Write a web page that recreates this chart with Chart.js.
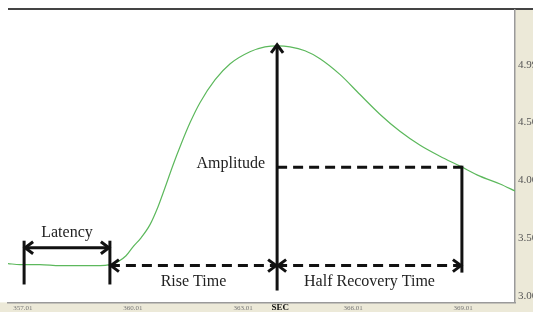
<!DOCTYPE html>
<html lang="en">
<head>
    <meta charset="UTF-8">
    <title>Skin Conductance Response</title>
    <script src="https://cdn.jsdelivr.net/npm/chart.js"></script>
    <style>
        body {
            margin: 0;
            padding: 0;
            background-color: #ffffff;
        }
        #wrap {
            width: 533px;
            height: 312px;
        }
    </style>
</head>
<body>
<div id="wrap">
    <canvas id="scrChart" width="533" height="312"></canvas>
</div>

<script>
    // Datos (segundos, microsiemens)
    const seriesTime = [356.60, 356.93, 357.47, 358.02, 358.56, 359.11, 359.38, 359.60, 359.82, 360.01,
        360.23, 360.47, 360.69, 360.88, 361.10, 361.32, 361.57, 361.84, 362.25, 362.66,
        363.20, 363.61, 363.97, 364.29, 364.70, 365.11, 365.66, 366.20, 366.75, 367.29,
        367.84, 368.38, 368.93, 369.47, 370.02, 370.43];
    const seriesValue = [3.282, 3.274, 3.274, 3.265, 3.265, 3.265, 3.274, 3.299, 3.350, 3.427,
        3.504, 3.615, 3.769, 3.932, 4.128, 4.308, 4.496, 4.667, 4.863, 5.000,
        5.103, 5.145, 5.154, 5.145, 5.111, 5.043, 4.906, 4.735, 4.564, 4.419,
        4.299, 4.205, 4.120, 4.034, 3.966, 3.906];
    const xTickValues = [357.01, 360.01, 363.01, 366.01, 369.01];
    const yTickValues = [3.00, 3.50, 4.00, 4.50, 4.99];

    // Anotaciones en unidades de datos
    const latency = { start: 357.04, end: 359.38, barTop: 3.479, barBottom: 3.103, arrowY: 3.419, textY: 3.547 };
    const riseTime = { start: 359.38, end: 363.94, y: 3.265, textY: 3.128 };
    const amplitude = { x: 363.94, top: 5.162, bottom: 3.051, textX: 363.61, textY: 4.137 };
    const halfRecovery = { start: 363.94, end: 368.98, halfY: 4.111, y: 3.265, barBottom: 3.205, textY: 3.128 };

    const panelPlugin = {
        id: 'panel',
        beforeDraw(chart) {
            const { ctx, chartArea, width, height } = chart;
            ctx.save();
            ctx.fillStyle = '#ffffff';
            ctx.fillRect(0, 0, width, height);
            ctx.fillStyle = '#ece9d8';
            ctx.fillRect(chartArea.right, chartArea.top, width - chartArea.right, height);
            ctx.fillRect(0, chartArea.bottom, width, height - chartArea.bottom);
            // linea superior
            ctx.strokeStyle = '#444';
            ctx.lineWidth = 2;
            ctx.beginPath();
            ctx.moveTo(chartArea.left, chartArea.top - 1);
            ctx.lineTo(width, chartArea.top - 1);
            ctx.stroke();
            ctx.restore();
        },
        afterDraw(chart) {
            const { ctx, chartArea } = chart;
            ctx.save();
            ctx.fillStyle = '#111';
            ctx.font = 'bold 9px "Liberation Serif"';
            ctx.textAlign = 'center';
            ctx.textBaseline = 'top';
            ctx.fillText('SEC', chartArea.left + (chartArea.right - chartArea.left) * 0.537, chartArea.bottom + 1);
            ctx.restore();
        }
    };

    function line(ctx, x1, y1, x2, y2, dashed) {
        ctx.setLineDash(dashed ? [10, 6] : []);
        ctx.beginPath();
        ctx.moveTo(x1, y1);
        ctx.lineTo(x2, y2);
        ctx.stroke();
        ctx.setLineDash([]);
    }

    function head(ctx, x, y, dir) {
        const l = 8, w = 6;
        ctx.beginPath();
        if (dir === 'left') {
            ctx.moveTo(x + l, y - w); ctx.lineTo(x, y); ctx.lineTo(x + l, y + w);
        } else if (dir === 'right') {
            ctx.moveTo(x - l, y - w); ctx.lineTo(x, y); ctx.lineTo(x - l, y + w);
        } else {
            ctx.moveTo(x - w, y + l); ctx.lineTo(x, y); ctx.lineTo(x + w, y + l);
        }
        ctx.stroke();
    }

    const annotationPlugin = {
        id: 'annotations',
        afterDatasetsDraw(chart) {
            const ctx = chart.ctx;
            const xs = chart.scales.x, ys = chart.scales.y;
            const X = v => xs.getPixelForValue(v);
            const Y = v => ys.getPixelForValue(v);
            ctx.save();
            ctx.strokeStyle = '#111';
            ctx.lineWidth = 3;
            ctx.lineCap = 'butt';
            ctx.lineJoin = 'miter';

            // Latency
            line(ctx, X(latency.start), Y(latency.barTop), X(latency.start), Y(latency.barBottom));
            line(ctx, X(latency.end), Y(latency.barTop), X(latency.end), Y(latency.barBottom));
            line(ctx, X(latency.start), Y(latency.arrowY), X(latency.end), Y(latency.arrowY));
            head(ctx, X(latency.start) + 1, Y(latency.arrowY), 'left');
            head(ctx, X(latency.end) - 1, Y(latency.arrowY), 'right');

            // Rise Time
            line(ctx, X(riseTime.start), Y(riseTime.y), X(riseTime.end), Y(riseTime.y), true);
            head(ctx, X(riseTime.start) + 1, Y(riseTime.y), 'left');
            head(ctx, X(riseTime.end) - 1, Y(riseTime.y), 'right');

            // Amplitude
            line(ctx, X(amplitude.x), Y(amplitude.top), X(amplitude.x), Y(amplitude.bottom));
            head(ctx, X(amplitude.x), Y(amplitude.top), 'up');

            // Half Recovery Time
            line(ctx, X(halfRecovery.start), Y(halfRecovery.halfY), X(halfRecovery.end), Y(halfRecovery.halfY), true);
            line(ctx, X(halfRecovery.end), Y(halfRecovery.halfY) - 1.5, X(halfRecovery.end), Y(halfRecovery.barBottom));
            line(ctx, X(halfRecovery.start), Y(halfRecovery.y), X(halfRecovery.end), Y(halfRecovery.y), true);
            head(ctx, X(halfRecovery.start) + 1, Y(halfRecovery.y), 'left');
            head(ctx, X(halfRecovery.end) - 1, Y(halfRecovery.y), 'right');

            // Textos
            ctx.fillStyle = '#222';
            ctx.font = '16px "Liberation Serif"';
            ctx.textBaseline = 'middle';
            ctx.textAlign = 'center';
            ctx.fillText('Latency', X((latency.start + latency.end) / 2), Y(latency.textY));
            ctx.fillText('Rise Time', X((riseTime.start + riseTime.end) / 2), Y(riseTime.textY));
            ctx.fillText('Half Recovery Time', X((halfRecovery.start + halfRecovery.end) / 2), Y(halfRecovery.textY));
            ctx.textAlign = 'right';
            ctx.fillText('Amplitude', X(amplitude.textX), Y(amplitude.textY));
            ctx.restore();
        }
    };

    new Chart(document.getElementById('scrChart').getContext('2d'), {
        type: 'line',
        data: {
            datasets: [{
                label: 'SCR',
                data: seriesTime.map((t, i) => ({ x: t, y: seriesValue[i] })),
                borderColor: '#5cb85c',
                borderWidth: 1.2,
                pointRadius: 0,
                cubicInterpolationMode: 'monotone',
                fill: false
            }]
        },
        options: {
            responsive: false,
            animation: false,
            layout: { padding: { left: 8, top: 10, right: 0, bottom: 0 } },
            plugins: {
                legend: { display: false },
                tooltip: { enabled: false }
            },
            scales: {
                x: {
                    type: 'linear',
                    min: 356.601,
                    max: 370.428,
                    grid: { display: false, drawTicks: false, tickLength: 0 },
                    border: { display: true, color: '#9a9a9a', width: 1.5 },
                    afterBuildTicks: scale => { scale.ticks = xTickValues.map(v => ({ value: v })); },
                    afterFit: scale => { scale.height = 8; },
                    ticks: {
                        autoSkip: false,
                        maxRotation: 0,
                        padding: 2,
                        color: '#777',
                        font: { family: 'Liberation Serif', size: 7 },
                        callback: v => v.toFixed(2)
                    }
                },
                y: {
                    type: 'linear',
                    position: 'right',
                    min: 2.949,
                    max: 5.4615,
                    grid: { display: false, drawTicks: false, tickLength: 0 },
                    border: { display: true, color: '#9a9a9a', width: 1.5 },
                    afterBuildTicks: scale => { scale.ticks = yTickValues.map(v => ({ value: v })); },
                    afterFit: scale => { scale.width = 18; },
                    ticks: {
                        autoSkip: false,
                        padding: 3,
                        color: '#555',
                        font: { family: 'Liberation Serif', size: 11 },
                        callback: v => v.toFixed(2)
                    }
                }
            }
        },
        plugins: [panelPlugin, annotationPlugin]
    });
</script>
</body>
</html>
